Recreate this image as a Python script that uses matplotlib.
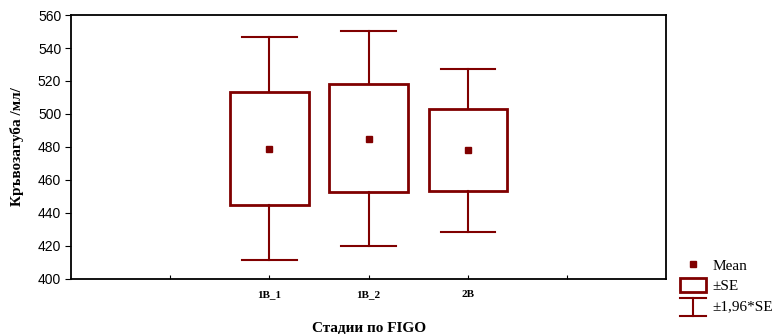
import matplotlib.pyplot as plt
from matplotlib.patches import Rectangle
from matplotlib.lines import Line2D
from matplotlib.legend_handler import HandlerBase

# data
stages = ["1B_1", "1B_2", "2B"]
means = [479, 485, 478]
se_low = [445, 452.5, 453]
se_high = [513.5, 518, 503]
ci_low = [411.5, 420, 428.5]
ci_high = [546.5, 550.5, 527.5]

red = "#800000"
serif = "Liberation Serif"
sans = "Liberation Sans"


class BoxHandler(HandlerBase):
    def create_artists(self, legend, orig, x0, y0, w, h, fontsize, trans):
        r = Rectangle((x0, y0 - 0.2 * h), w, h * 1.3, fill=False,
                      edgecolor=red, lw=2, transform=trans)
        return [r]


class WhiskerHandler(HandlerBase):
    def create_artists(self, legend, orig, x0, y0, w, h, fontsize, trans):
        top = y0 + h * 1.2
        bot = y0 - h * 0.5
        mid = x0 + w / 2
        lines = [Line2D([mid, mid], [bot, top], color=red, lw=1.5, transform=trans),
                 Line2D([x0, x0 + w], [top, top], color=red, lw=1.5, transform=trans),
                 Line2D([x0, x0 + w], [bot, bot], color=red, lw=1.5, transform=trans)]
        return lines


fig = plt.figure(figsize=(7.72, 3.34), dpi=100)
ax = fig.add_axes([0.092, 0.165, 0.771, 0.79])

pos = list(range(1, len(stages) + 1))
box_w = 0.79
cap_w = 0.55
for x, m, sl, sh, cl, ch in zip(pos, means, se_low, se_high, ci_low, ci_high):
    ax.add_patch(Rectangle((x - box_w / 2, sl), box_w, sh - sl, fill=False,
                           edgecolor=red, lw=2, zorder=3))
    ax.plot([x, x], [sh, ch], color=red, lw=1.5, zorder=2)
    ax.plot([x, x], [cl, sl], color=red, lw=1.5, zorder=2)
    ax.plot([x - cap_w / 2, x + cap_w / 2], [ch, ch], color=red, lw=1.5, zorder=2)
    ax.plot([x - cap_w / 2, x + cap_w / 2], [cl, cl], color=red, lw=1.5, zorder=2)
ax.plot(pos, means, ls="none", marker="s", ms=5, color=red, zorder=4)

ax.set_xlim(-1, 5)
ax.set_ylim(400, 560)
ax.set_xticks([0] + pos + [4])
ax.set_xticklabels([""] + stages + [""], fontfamily=serif, fontweight="bold", fontsize=8)
ax.set_yticks(range(400, 561, 20))
for t in ax.get_yticklabels():
    t.set_fontfamily(sans)
    t.set_fontsize(10)
ax.tick_params(axis="x", direction="in", length=3, pad=8)
ax.tick_params(axis="y", direction="out", length=4, pad=3)
for s in ax.spines.values():
    s.set_linewidth(1.3)

ax.set_ylabel("Кръвозагуба /мл/", fontfamily=serif, fontweight="bold", fontsize=11, labelpad=10)
ax.set_xlabel("Стадии по FIGO", fontfamily=serif, fontweight="bold", fontsize=11, labelpad=16)

h_mean = Line2D([], [], ls="none", marker="s", ms=5, color=red)
h_box = Rectangle((0, 0), 1, 1)
h_wh = Line2D([], [])
fig.legend([h_mean, h_box, h_wh], ["Mean", "±SE", "±1,96*SE"],
           handler_map={Rectangle: BoxHandler(), h_wh: WhiskerHandler()},
           loc="upper left", bbox_to_anchor=(0.881, 0.225), frameon=False,
           prop={"family": serif, "size": 11}, handlelength=1.7, handletextpad=0.4,
           labelspacing=0.45, borderpad=0, borderaxespad=0)

fig.savefig("out.png", dpi=100)
